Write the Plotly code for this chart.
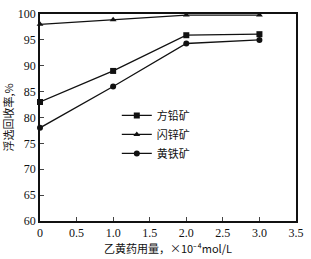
import plotly.graph_objects as go

x = [0, 1.0, 2.0, 3.0]
galena = [83, 89, 95.9, 96.1]
sphalerite = [98, 98.9, 99.8, 99.8]
pyrite = [78, 86, 94.3, 95]
names = ["方铅矿", "闪锌矿", "黄铁矿"]
xticks = [0, 0.5, 1.0, 1.5, 2.0, 2.5, 3.0, 3.5]
xticklabels = ["0", "0.5", "1.0", "1.5", "2.0", "2.5", "3.0", "3.5"]
yticks = [60, 65, 70, 75, 80, 85, 90, 95, 100]

fig = go.Figure()
for ys, name, sym in [(galena, names[0], "square"), (sphalerite, names[1], "triangle-up"), (pyrite, names[2], "circle")]:
    fig.add_trace(go.Scatter(x=x, y=ys, name=name, mode="lines+markers",
                             line=dict(color="#111", width=1.3),
                             marker=dict(symbol=sym, size=6, color="#111"),
                             cliponaxis=False))

font_main = "Liberation Serif, Noto Sans CJK SC"
fig.update_layout(
    width=311, height=259,
    margin=dict(l=40, r=10, t=7, b=38),
    paper_bgcolor="white", plot_bgcolor="white",
    font=dict(family=font_main, size=12, color="#111"),
    showlegend=True,
    legend=dict(x=0.3, y=0.58, xanchor="left", yanchor="top",
                bgcolor="rgba(0,0,0,0)", font=dict(size=11, family="Noto Sans CJK SC"),
                tracegroupgap=0, itemwidth=30),
    xaxis=dict(range=[0, 3.5], tickvals=xticks, ticktext=xticklabels,
               ticks="inside", ticklen=4, showline=True, linecolor="#111", linewidth=1.5,
               mirror=True, showgrid=False, zeroline=False,
               title=dict(text="乙黄药用量，×10⁻⁴mol/L", font=dict(size=11, family="Noto Sans CJK SC"), standoff=4),
               tickfont=dict(size=12)),
    yaxis=dict(range=[60, 100], tickvals=yticks,
               ticks="inside", ticklen=4, showline=True, linecolor="#111", linewidth=1.5,
               mirror=True, showgrid=False, zeroline=False,
               title=dict(text="浮选回收率,%", font=dict(size=11, family="Noto Sans CJK SC"), standoff=2),
               tickfont=dict(size=12)),
)
fig.write_html("out.html")
